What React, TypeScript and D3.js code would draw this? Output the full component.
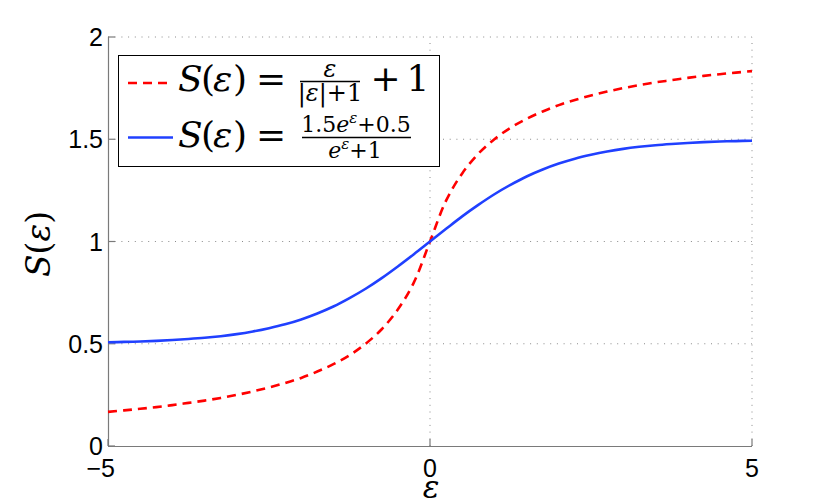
import React from "react";
import * as d3 from "d3";

const eps = [
  -5, -4.75, -4.5, -4.25, -4, -3.75, -3.5, -3.25, -3, -2.75, -2.5, -2.25, -2, -1.75, -1.5, -1.25, -1, -0.75, -0.5, -0.25,
  0, 0.25, 0.5, 0.75, 1, 1.25, 1.5, 1.75, 2, 2.25, 2.5, 2.75, 3, 3.25, 3.5, 3.75, 4, 4.25, 4.5, 4.75, 5,
];
const redValues = [
  0.167, 0.174, 0.182, 0.19, 0.2, 0.211, 0.222, 0.235, 0.25, 0.267, 0.286, 0.308, 0.333, 0.364, 0.4, 0.444, 0.5, 0.571, 0.667, 0.8,
  1.0, 1.2, 1.333, 1.429, 1.5, 1.556, 1.6, 1.636, 1.667, 1.692, 1.714, 1.733, 1.75, 1.765, 1.778, 1.789, 1.8, 1.81, 1.818, 1.826, 1.833,
];
const blueValues = [
  0.507, 0.509, 0.511, 0.514, 0.518, 0.523, 0.529, 0.537, 0.547, 0.56, 0.576, 0.595, 0.619, 0.648, 0.682, 0.723, 0.769, 0.821, 0.878, 0.938,
  1.0, 1.062, 1.123, 1.179, 1.231, 1.277, 1.318, 1.352, 1.381, 1.405, 1.424, 1.44, 1.453, 1.463, 1.471, 1.477, 1.482, 1.486, 1.489, 1.491, 1.493,
];
const xTicks = [-5, 0, 5];
const yTicks = [0, 0.5, 1, 1.5, 2];
const yTickLabels = ["0", "0.5", "1", "1.5", "2"];

const W = 830;
const H = 503;
const L = 108, R = 752, T = 37, B = 446;

const serif = "'DejaVu Serif'";
const sans = "'Liberation Sans', Roboto, sans-serif";

export default function App() {
  const x = d3.scaleLinear().domain([-5, 5]).range([L, R]);
  const y = d3.scaleLinear().domain([0, 2]).range([B, T]);
  const line = d3
    .line<number>()
    .x((_, i) => x(eps[i]))
    .y((d) => y(d))
    .curve(d3.curveCatmullRom);

  const axisColor = "#7a7a7a";
  const gridColor = "#8a8a8a";
  const tickLen = 7;
  const sf = (size: number, italic = false) => ({ fontFamily: serif, fontSize: size + "px", fontStyle: italic ? "italic" : "normal" });
  const ss = { fontFamily: sans, fontSize: "25px" };

  return (
    <svg width={W} height={H} style={{ position: "absolute", left: 0, top: 0, background: "#fff" }}>
      <rect x={0} y={0} width={W} height={H} fill="#fff" />
      {xTicks.filter((t) => t !== -5).map((t) => (
        <line key={"gx" + t} x1={x(t)} x2={x(t)} y1={B} y2={T} stroke={gridColor} strokeWidth={1} strokeDasharray="1 5.7" />
      ))}
      {yTicks.filter((t) => t !== 0).map((t) => (
        <line key={"gy" + t} x1={L} x2={R} y1={y(t)} y2={y(t)} stroke={gridColor} strokeWidth={1} strokeDasharray="1 5.7" />
      ))}
      <line x1={L} x2={R} y1={B + 0.5} y2={B + 0.5} stroke={axisColor} strokeWidth={1.2} />
      <line x1={L + 0.5} x2={L + 0.5} y1={T} y2={B} stroke={axisColor} strokeWidth={1.2} />
      {xTicks.map((t) => (
        <line key={"tx" + t} x1={x(t)} x2={x(t)} y1={B} y2={B - tickLen} stroke={axisColor} strokeWidth={1.2} />
      ))}
      {yTicks.map((t) => (
        <line key={"ty" + t} x1={L} x2={L + tickLen} y1={y(t)} y2={y(t)} stroke={axisColor} strokeWidth={1.2} />
      ))}
      {yTicks.map((t, i) => (
        <text key={"yl" + t} x={103} y={y(t)} dy="0.36em" textAnchor="end" style={ss} fill="#000">
          {yTickLabels[i]}
        </text>
      ))}
      {xTicks.map((t) => (
        <g key={"xl" + t}>
          <text x={x(t)} y={477} textAnchor="middle" style={ss} fill="#000">
            {String(Math.abs(t))}
          </text>
          {t < 0 && (
            <text x={x(t) - 7} y={477} textAnchor="end" style={ss} fill="#000">
              {"\u2212"}
            </text>
          )}
        </g>
      ))}
      <text x={431} y={498} textAnchor="middle" style={sf(31, true)}>ε</text>
      <text transform="translate(50,244) rotate(-90)" textAnchor="middle" style={sf(33)}>
        <tspan style={{ fontStyle: "italic" }}>S</tspan>(<tspan style={{ fontStyle: "italic" }}>ε</tspan>)
      </text>
      <path d={line(redValues) || ""} fill="none" stroke="#ff0000" strokeWidth={2.6} strokeDasharray="9 6" />
      <path d={line(blueValues) || ""} fill="none" stroke="#2040ff" strokeWidth={2.6} />
      <rect x={118.5} y={55.5} width={321} height={111} fill="#fff" stroke="#000" strokeWidth={1} />
      <line x1={128} x2={173} y1={83} y2={83} stroke="#ff0000" strokeWidth={2.6} strokeDasharray="9 6" />
      <line x1={128} x2={173} y1={137.5} y2={137.5} stroke="#2040ff" strokeWidth={2.6} />
      <g fill="#000">
        <text x={178} y={91} style={sf(36, true)}>S</text>
        <text x={201} y={91} style={sf(36)}>(</text>
        <text x={213} y={91} style={sf(36, true)}>ε</text>
        <text x={233} y={91} style={sf(36)}>)</text>
        <text x={256} y={91} style={sf(36)}>=</text>
        <text x={330} y={77} textAnchor="middle" style={sf(24, true)}>ε</text>
        <line x1={300} x2={360} y1={81.5} y2={81.5} stroke="#000" strokeWidth={1.3} />
        <text x={330} y={101} textAnchor="middle" style={sf(24)}>
          |<tspan style={{ fontStyle: "italic" }}>ε</tspan>|+1
        </text>
        <text x={385.5} y={91} textAnchor="middle" style={sf(36)}>+</text>
        <text x={418} y={91} textAnchor="middle" style={sf(36)}>1</text>
      </g>
      <g fill="#000">
        <text x={178} y={147} style={sf(36, true)}>S</text>
        <text x={201} y={147} style={sf(36)}>(</text>
        <text x={213} y={147} style={sf(36, true)}>ε</text>
        <text x={233} y={147} style={sf(36)}>)</text>
        <text x={256} y={147} style={sf(36)}>=</text>
        <text x={356} y={132} textAnchor="middle" style={sf(22)}>
          1.5<tspan style={{ fontStyle: "italic" }}>e</tspan>
          <tspan style={{ fontStyle: "italic", fontSize: "15px" }} dy={-9}>ε</tspan>
          <tspan dy={9}>+0.5</tspan>
        </text>
        <line x1={302} x2={411} y1={137.5} y2={137.5} stroke="#000" strokeWidth={1.3} />
        <text x={355} y={158} textAnchor="middle" style={sf(22)}>
          <tspan style={{ fontStyle: "italic" }}>e</tspan>
          <tspan style={{ fontStyle: "italic", fontSize: "15px" }} dy={-9}>ε</tspan>
          <tspan dy={9}>+1</tspan>
        </text>
      </g>
    </svg>
  );
}
